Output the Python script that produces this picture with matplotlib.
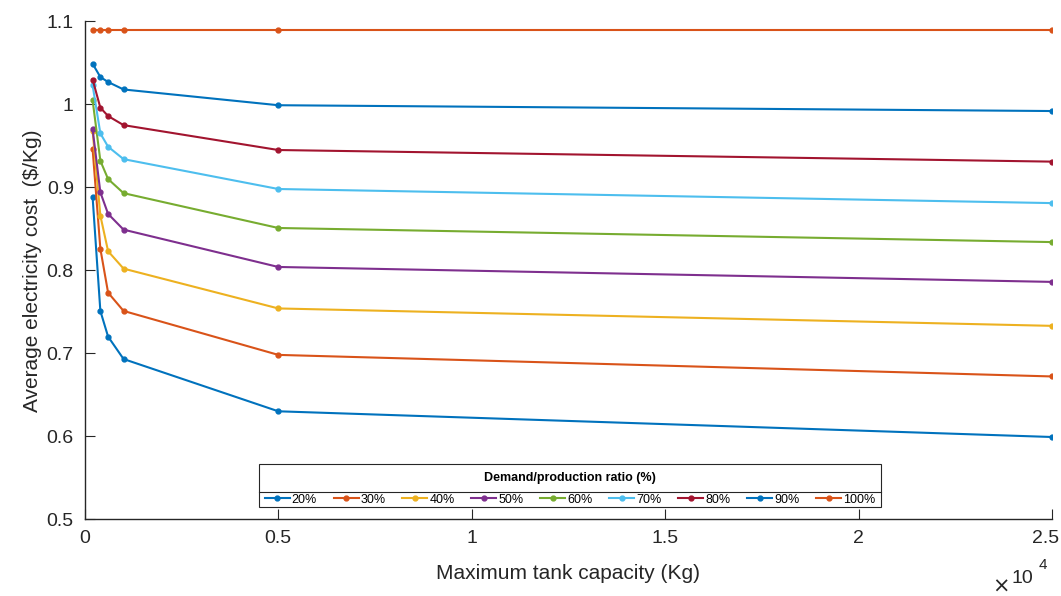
import matplotlib.pyplot as plt
from matplotlib.patches import Rectangle
from matplotlib.ticker import FuncFormatter
from matplotlib.transforms import ScaledTranslation

plt.rcParams['font.family'] = ['Liberation Sans Narrow', 'Liberation Sans', 'DejaVu Sans']

# tank capacities (Kg)
capacity = [200, 400, 600, 1000, 5000, 25000]

ratios = ['20%', '30%', '40%', '50%', '60%', '70%', '80%', '90%', '100%']

# average electricity cost for each demand/production ratio
cost_20 = [0.888, 0.751, 0.720, 0.693, 0.630, 0.599]
cost_30 = [0.946, 0.826, 0.773, 0.751, 0.698, 0.672]
cost_40 = [0.968, 0.866, 0.823, 0.802, 0.754, 0.733]
cost_50 = [0.970, 0.894, 0.868, 0.849, 0.804, 0.786]
cost_60 = [1.005, 0.932, 0.910, 0.893, 0.851, 0.834]
cost_70 = [1.023, 0.965, 0.949, 0.934, 0.898, 0.881]
cost_80 = [1.030, 0.996, 0.986, 0.975, 0.945, 0.931]
cost_90 = [1.049, 1.033, 1.027, 1.018, 0.999, 0.992]
cost_100 = [1.090, 1.090, 1.090, 1.090, 1.090, 1.090]

series = [cost_20, cost_30, cost_40, cost_50, cost_60, cost_70, cost_80, cost_90, cost_100]
colors = ['#0072BD', '#D95319', '#EDB120', '#7E2F8E', '#77AC30',
          '#4DBEEE', '#A2142F', '#0072BD', '#D95319']

fig = plt.figure(figsize=(10.61, 5.96), dpi=100)
ax = fig.add_axes([0.080, 0.129, 0.9115, 0.835])

for vals, c, lab in zip(series, colors, ratios):
    ax.plot(capacity, vals, color=c, marker='o', markersize=3.5, linewidth=1.5, label=lab)

ax.set_xlim(0, 25000)
ax.set_ylim(0.5, 1.1)
ax.set_xticks([0, 5000, 10000, 15000, 20000, 25000])
ax.set_yticks([0.5, 0.6, 0.7, 0.8, 0.9, 1.0, 1.1])
ax.xaxis.set_major_formatter(FuncFormatter(lambda v, p: '%g' % (v / 1e4)))
ax.yaxis.set_major_formatter(FuncFormatter(lambda v, p: '%g' % round(v, 2)))

ax.spines['top'].set_visible(False)
ax.spines['right'].set_visible(False)
for s in ['left', 'bottom']:
    ax.spines[s].set_color('#262626')
    ax.spines[s].set_linewidth(1.0)
ax.tick_params(direction='in', length=7, width=0.8, colors='#262626', labelsize=14, pad=8)

ax.set_xlabel('Maximum tank capacity (Kg)', fontsize=15, color='#262626', labelpad=12)
ax.set_ylabel('Average electricity cost  (\\$/Kg)', fontsize=15, color='#262626', labelpad=3)

fig.text(0.935, 0.008, r'$\times$', fontsize=15, color='#262626')
fig.text(0.953, 0.022, '10', fontsize=14, color='#262626')
fig.text(0.979, 0.045, '4', fontsize=11, color='#262626')

# legend: entries row, then a box with a title cell drawn above it
leg = ax.legend(ncol=9, loc='lower center', bbox_to_anchor=(0.5015, 0.012),
                fontsize=9, frameon=False,
                handlelength=2.0, handletextpad=0.15, columnspacing=1.35,
                borderpad=0.1)

fig.canvas.draw()
# keep the last x tick label inside the figure
last = ax.get_xticklabels()[-1]
last.set_transform(last.get_transform() + ScaledTranslation(-6 / 100, 0, fig.dpi_scale_trans))

r = fig.canvas.get_renderer()
lb = leg.get_window_extent(r)
inv = fig.transFigure.inverted()
title_h = 28
pad = 4
(x0, y0), (x1, y1) = inv.transform([(lb.x0 - pad, lb.y0), (lb.x1 + pad, lb.y1 + title_h)])
(_, ysep), = inv.transform([(lb.x0, lb.y1)])
fig.add_artist(Rectangle((x0, y0), x1 - x0, y1 - y0, transform=fig.transFigure,
                         facecolor='white', edgecolor='#262626', linewidth=0.8, zorder=4))
fig.add_artist(plt.Line2D([x0, x1], [ysep, ysep], color='#262626', linewidth=0.8, zorder=5))
fig.text((x0 + x1) / 2, (ysep + y1) / 2, 'Demand/production ratio (%)', fontsize=9,
         fontweight='bold', ha='center', va='center', zorder=6)
leg.set_zorder(7)
leg.remove()
fig.add_artist(leg)

fig.savefig('out.png', dpi=100)
